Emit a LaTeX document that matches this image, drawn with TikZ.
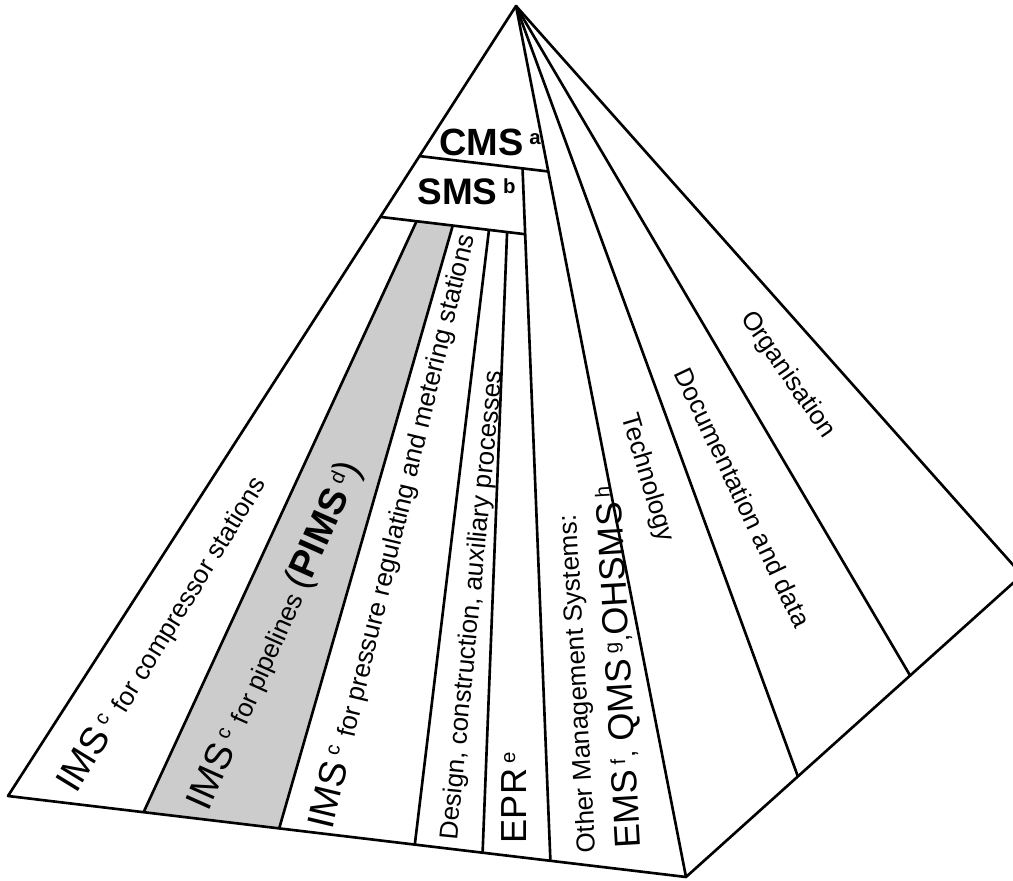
\documentclass[tikz,border=0pt]{standalone}
\usepackage{fontspec}
\setmainfont{Liberation Sans}
\usetikzlibrary{calc}

\newcommand{\smallf}{\fontsize{7.4}{8.5}\selectfont}
\newcommand{\midf}{\fontsize{10.3}{11.5}\selectfont}
\newcommand{\bigf}{\fontsize{10.8}{12}\selectfont}
\newcommand{\fnref}[1]{\hspace{.15em}\raisebox{.3em}{\fontsize{5.8}{6}\selectfont #1}}

\begin{document}
\begin{tikzpicture}[pyr/.style={line width=.75pt,line join=round},
  lbl/.style={inner sep=0pt},
  pimsfill/.style={fill=black!20}]
\useasboundingbox (0,0) rectangle (10.13,8.81);
\pgfmathsetmacro\tCMS{.19}
\pgfmathsetmacro\tSMS{.267}

% corners of the pyramid
\coordinate (apex) at (5.16,8.75);
\coordinate (bl) at (0.08,0.85);
\coordinate (bc) at (6.86,0.04);
\coordinate (br) at (10.22,3.06);

\coordinate (cL) at ($(apex)!\tCMS!(bl)$);%
\coordinate (cR) at ($(apex)!\tCMS!(bc)$);%
\coordinate (sL) at ($(apex)!\tSMS!(bl)$);%
\coordinate (sR) at ($(apex)!\tSMS!(bc)$);%

% stripes of the front face
\coordinate (t1) at ($(sL)!.2!(sR)$); \coordinate (b1) at ($(bl)!.2!(bc)$);%
\coordinate (t2) at ($(sL)!.4!(sR)$); \coordinate (b2) at ($(bl)!.4!(bc)$);%
\coordinate (t3) at ($(sL)!.6!(sR)$); \coordinate (b3) at ($(bl)!.6!(bc)$);%
\coordinate (t4) at ($(sL)!.7!(sR)$); \coordinate (b4) at ($(bl)!.7!(bc)$);%
\coordinate (t5) at ($(sL)!.8!(sR)$); \coordinate (b5) at ($(bl)!.8!(bc)$);%
\coordinate (c5) at (intersection of cL--cR and b5--t5);

% side face
\coordinate (f1) at ($(bc)!.333!(br)$);
\coordinate (f2) at ($(bc)!.667!(br)$);

\fill [pimsfill] (t1) -- (t2) -- (b2) -- (b1) -- cycle;

\draw [pyr] (apex) -- (bl) -- (bc) -- (br) -- cycle;
\draw [pyr] (apex) -- (bc);
\draw [pyr] (apex) -- (f1);
\draw [pyr] (apex) -- (f2);
\draw [pyr] (cL) -- (cR);
\draw [pyr] (sL) -- (t5);
\draw [pyr] (t1) -- (b1);
\draw [pyr] (t2) -- (b2);
\draw [pyr] (t3) -- (b3);
\draw [pyr] (t4) -- (b4);
\draw [pyr] (c5) -- (b5);

\node [lbl] (cms) at (4.90,7.385) {\fontsize{10.8}{12}\selectfont\bfseries CMS\fnref{a}};
\node [lbl] (sms) at (4.665,6.895) {\fontsize{10.5}{12}\selectfont\bfseries SMS\fnref{b}};

\node [lbl,anchor=base west,rotate=58.5] (ims1) at (0.76,0.86) {\bigf IMS\fnref{c} \smallf for compressor stations};
\node [lbl,anchor=base west,rotate=66] (ims2) at (2.08,0.68) {\bigf IMS\fnref{c} \smallf for pipelines \bigf(\textbf{PIMS}\fnref{d})};
\node [lbl,anchor=base west,rotate=76.5] (ims3) at (3.32,0.50) {\bigf IMS\fnref{c} \smallf for pressure regulating and metering stations};
\node [lbl,anchor=base west,rotate=84.5] (design) at (4.57,0.40) {\smallf Design, construction, auxiliary processes};
\node [lbl,anchor=base west,rotate=90] (epr) at (5.26,0.37) {\midf EPR\fnref{e}};
\node [lbl,anchor=base west,rotate=93.3] (oms1) at (5.96,0.28) {\smallf Other Management Systems:};
\node [lbl,anchor=base west,rotate=93.3] (oms2) at (6.41,0.33) {\midf EMS\fnref{f}{\smallf,} QMS\fnref{g}{\smallf,}OHSMS\fnref{h}};

\node [lbl,rotate=-73.4] (tech) at (6.47,4.03) {\smallf Technology};
\node [lbl,rotate=-64.6] (docu) at (7.43,3.835) {\smallf Documentation and data};
\node [lbl,rotate=-55.4] (orga) at (7.875,5.06) {\smallf Organisation};

\end{tikzpicture}
\end{document}
